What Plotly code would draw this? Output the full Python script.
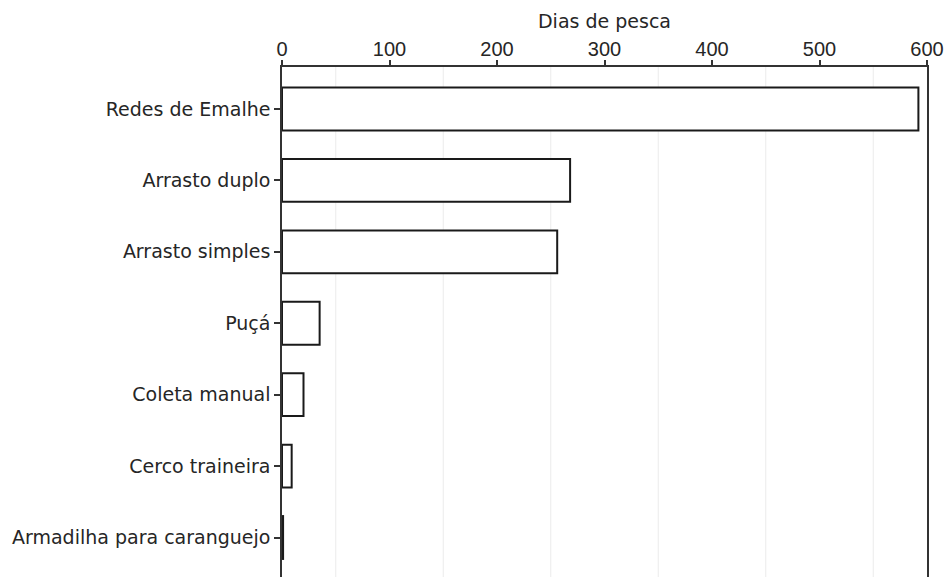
import plotly.graph_objects as go

# Fishing effort (days) per gear type
gears = [
    "Redes de Emalhe",
    "Arrasto duplo",
    "Arrasto simples",
    "Puçá",
    "Coleta manual",
    "Cerco traineira",
    "Armadilha para caranguejo",
]
days = [592, 268, 256, 35, 20, 9, 1]

x_ticks = [0, 100, 200, 300, 400, 500, 600]
grid_vals = [50, 150, 250, 350, 450, 550]

positions = list(range(len(gears)))

fig = go.Figure()
fig.add_trace(
    go.Bar(
        x=days,
        y=positions,
        orientation="h",
        width=0.6,
        marker=dict(color="white", line=dict(color="#1a1a1a", width=2)),
        hoverinfo="x+text",
        text=gears,
        textposition="none",
    )
)

# light vertical guide lines between the labelled ticks
for g in grid_vals:
    fig.add_shape(
        type="line", xref="x", yref="paper",
        x0=g, x1=g, y0=0, y1=1,
        line=dict(color="#ebebeb", width=1),
        layer="below",
    )

label_font = "DejaVu Sans, Verdana, sans-serif"
number_font = "Liberation Sans, Arial, sans-serif"
text_color = "#262626"

fig.update_layout(
    width=945,
    height=577,
    margin=dict(l=282, r=18, t=67, b=0),
    paper_bgcolor="white",
    plot_bgcolor="white",
    showlegend=False,
    font=dict(family=label_font, color=text_color, size=19),
    xaxis=dict(
        side="top",
        range=[0, 600],
        tickvals=x_ticks,
        ticktext=[str(v) for v in x_ticks],
        tickfont=dict(family=number_font, size=20, color=text_color),
        ticks="outside",
        ticklen=5,
        tickwidth=1.5,
        tickcolor="#333333",
        ticklabelstandoff=-4,
        showline=True,
        linecolor="#333333",
        linewidth=1.5,
        showgrid=False,
        zeroline=False,
        title=dict(text="Dias de pesca", font=dict(family=label_font, size=19, color=text_color), standoff=5),
    ),
    yaxis=dict(
        range=[6.553, -0.588],
        tickvals=positions,
        ticktext=gears,
        tickfont=dict(family=label_font, size=19, color=text_color),
        ticks="outside",
        ticklen=6,
        tickwidth=1.5,
        tickcolor="#333333",
        showline=True,
        mirror=True,
        linecolor="#333333",
        linewidth=1.5,
        showgrid=False,
        zeroline=False,
    ),
)

fig.write_html("out.html")
